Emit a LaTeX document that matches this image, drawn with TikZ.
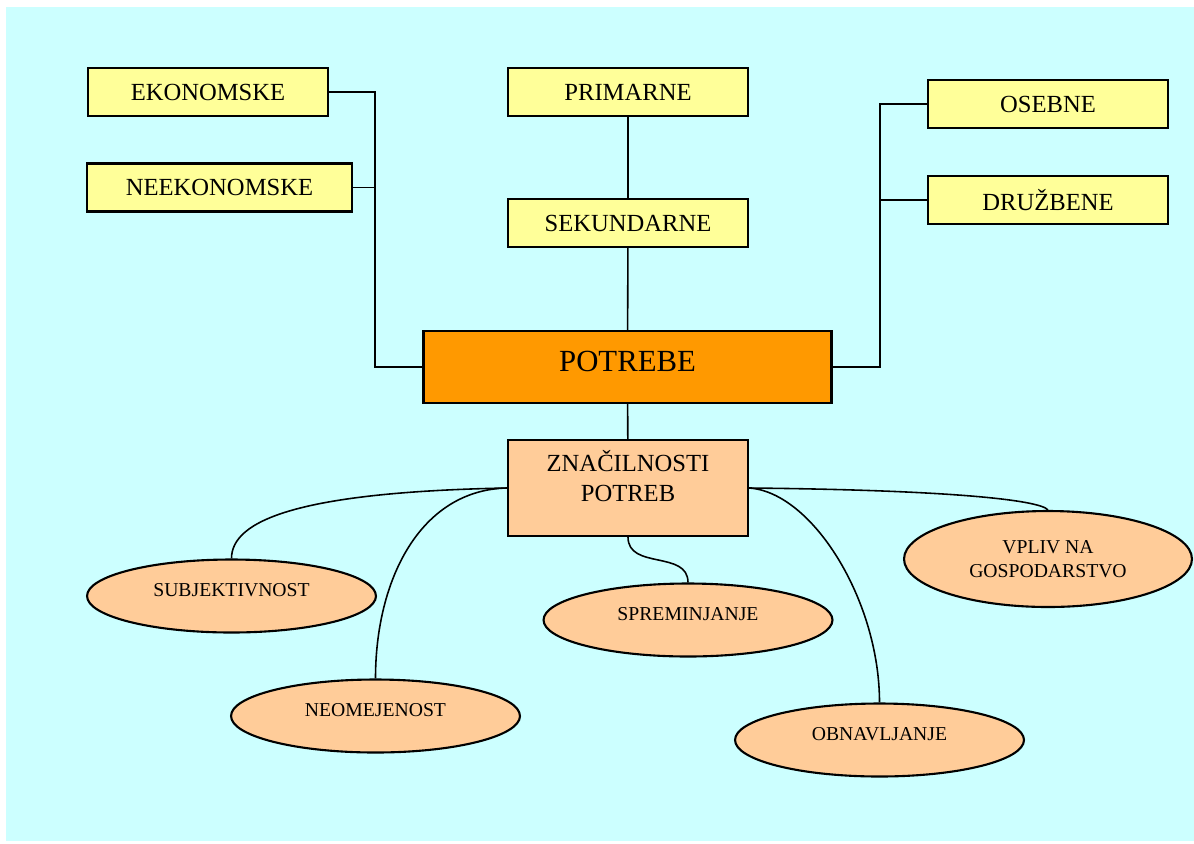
\documentclass[tikz,border=0pt]{standalone}
\usepackage{fontspec}
\setmainfont{Liberation Serif}
\usetikzlibrary{shapes.geometric}
\definecolor{bgcyan}{HTML}{CCFFFF}
\definecolor{kindyellow}{HTML}{FFFF99}
\definecolor{mainorange}{HTML}{FF9900}
\definecolor{traitpeach}{HTML}{FFCC99}
\newcommand{\lift}[2]{\raisebox{#1}[\height][\depth]{#2}}

\begin{document}
\begin{tikzpicture}[x=0.02cm, y=-0.02cm, line width=0.9pt,
  kind/.style={rectangle,draw,line width=1.2pt,fill=kindyellow,minimum width=4.8cm,minimum height=0.96cm,inner sep=2pt,font=\fontsize{14}{17}\selectfont},
  trait/.style={ellipse,draw,line width=1.2pt,fill=traitpeach,minimum width=5.78cm,minimum height=1.46cm,inner sep=1pt,align=center,font=\fontsize{11.2}{14}\selectfont}]

\useasboundingbox (0,0) rectangle (1194,843);
\fill[bgcyan] (6,7) rectangle (1194,841);

\foreach \x/\y/\name/\txt in {208/92/eko/EKONOMSKE,628/92/prim/PRIMARNE,628/223/sek/SEKUNDARNE,1048/104/oseb/OSEBNE,1048/200/druz/DRUŽBENE}
{
\draw (\x,\y) node[kind](\name) {\txt};
}
\draw (219.5,187.5) node[kind,minimum width=5.3cm](neeko) {NEEKONOMSKE};

\draw (627.5,367) node[kind,fill=mainorange,minimum width=8.16cm,minimum height=1.44cm,font=\fontsize{17.5}{21}\selectfont](pot) {\lift{3.4pt}{POTREBE}};
\draw (628,488) node[kind,fill=traitpeach,minimum height=1.92cm](znac) {\lift{4.5pt}{\begin{tabular}{@{}c@{}}ZNAČILNOSTI\\POTREB\end{tabular}}};

\foreach \x/\y/\name/\txt in {231.5/596/subj/SUBJEKTIVNOST,375.5/716/neom/NEOMEJENOST,688/620/sprem/SPREMINJANJE,879.5/740/obnav/OBNAVLJANJE}
{
\draw (\x,\y) node[trait](\name) {\lift{3.2pt}{\txt}};
}
\draw (1048,559) node[trait,minimum width=5.76cm,minimum height=1.92cm](vpliv) {VPLIV NA\\GOSPODARSTVO};

% vodila do glavnega okvirja
\coordinate (lbus) at (375,367);
\coordinate (rbus) at (880,367);
\draw (eko.east) -| (lbus) -- (pot.west);
\draw (neeko.east) -- (neeko.east -| lbus);
\draw (oseb.west) -| (rbus) -- (pot.east);
\draw (druz.west) -- (druz.west -| rbus);
\draw (prim) -- (sek) -- (pot) -- (znac);

% krivulje do znacilnosti
\draw (znac.west) .. controls (300,492) and (231.5,520) .. (subj.north);
\draw (znac.west) .. controls (420,490) and (375.5,580) .. (neom.north);
\draw (znac.south) .. controls (628,570) and (688,550) .. (sprem.north);
\draw (znac.east) .. controls (812,492) and (879.5,600) .. (obnav.north);
\draw (znac.east) .. controls (950,490) and (1040,500) .. (vpliv.north);
\end{tikzpicture}
\end{document}
